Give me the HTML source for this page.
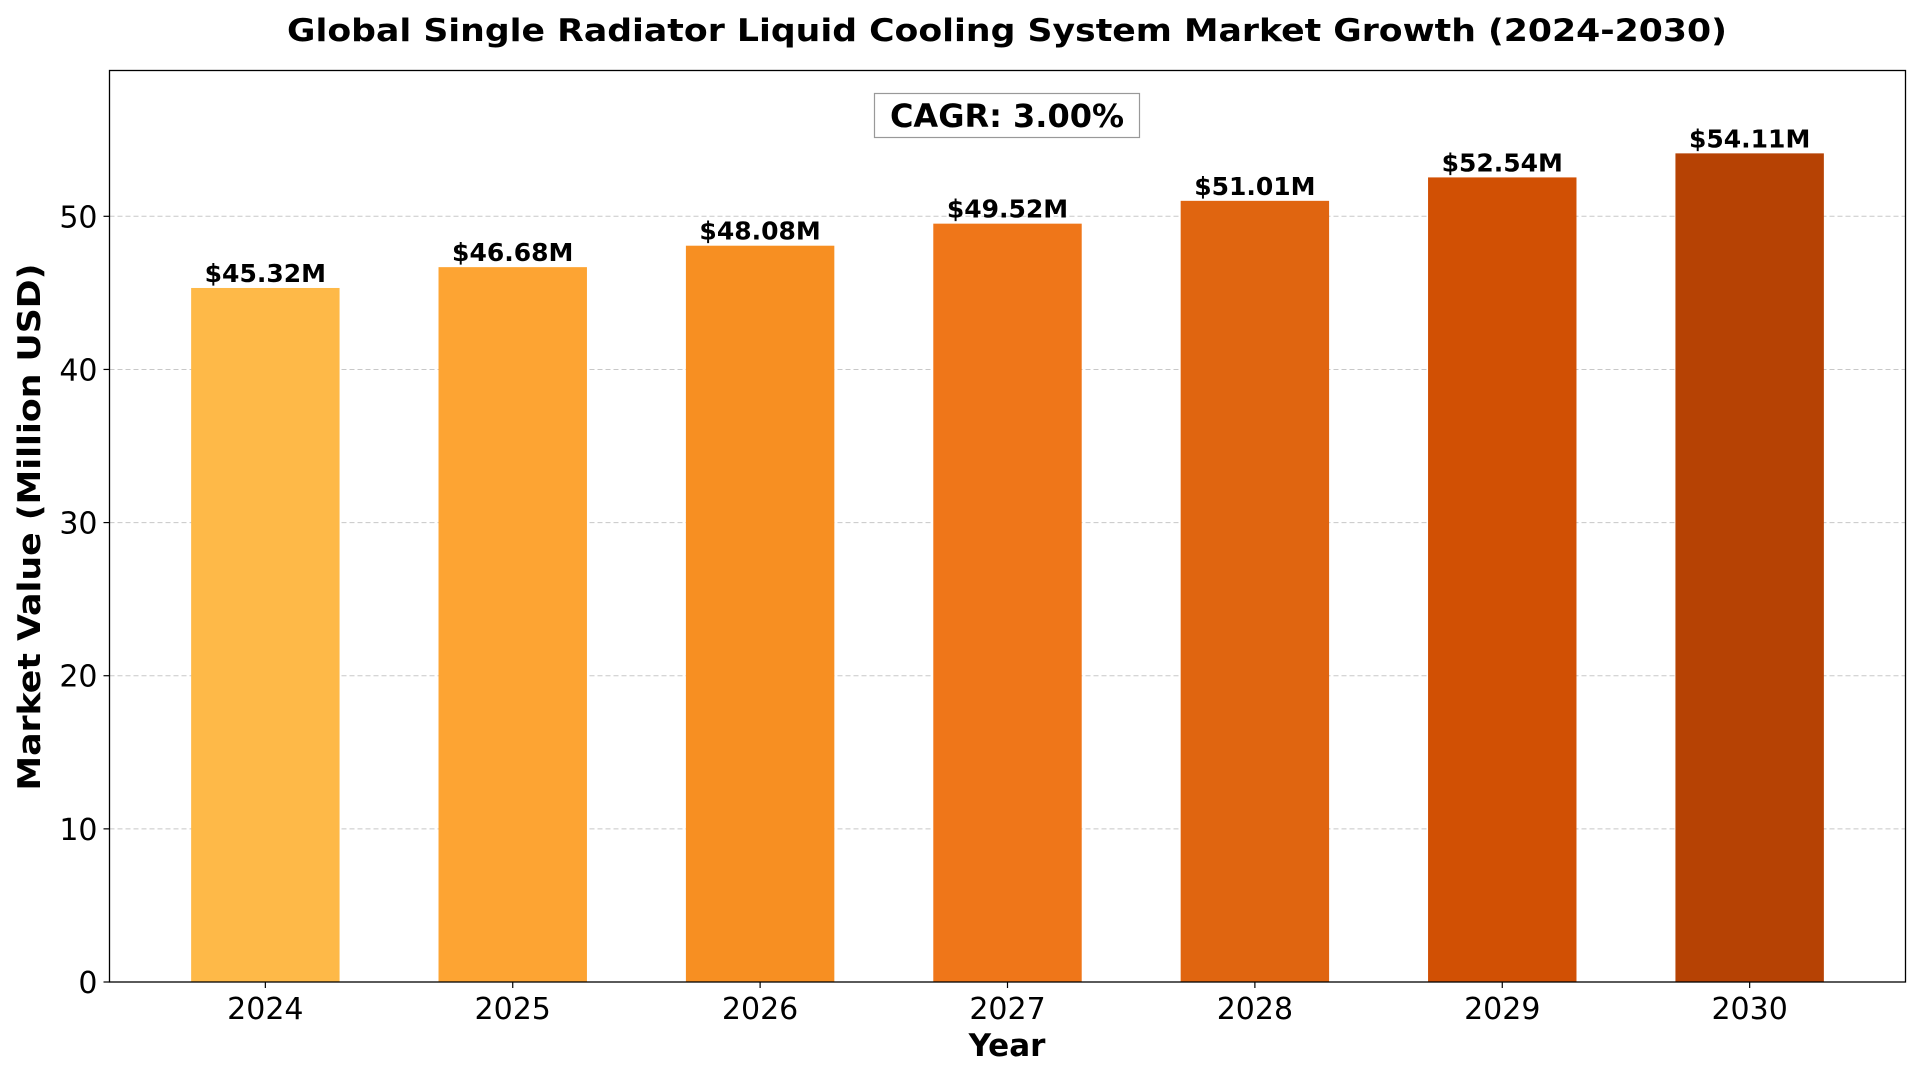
<!DOCTYPE html>
<html><head><meta charset="utf-8"><style>
html,body{margin:0;padding:0;background:#fff;width:1920px;height:1080px;overflow:hidden}
svg{display:block;font-family:"DejaVu Sans","Liberation Sans",sans-serif}
</style></head><body>
<svg id="chart" width="1920" height="1080" viewBox="0 0 1920 1080" xmlns="http://www.w3.org/2000/svg">
<text x="1007" y="41" text-anchor="middle" font-size="31" font-weight="bold" textLength="1440" lengthAdjust="spacingAndGlyphs">Global Single Radiator Liquid Cooling System Market Growth (2024-2030)</text>
<g id="grid"></g>
<g id="bars"></g>
<g id="yticks"></g>
<g id="xticks"></g>
<g id="labels"></g>
<rect x="109.5" y="70.5" width="1796" height="911.5" fill="none" stroke="#000" stroke-width="1.3"/>
<rect x="874.5" y="93.5" width="265" height="44" fill="#fff" stroke="#999" stroke-width="1.2"/>
<text x="1007" y="127" text-anchor="middle" font-size="32" font-weight="bold">CAGR: 3.00%</text>
<text x="1007" y="1056" text-anchor="middle" font-size="31" font-weight="bold">Year</text>
<text transform="translate(40,527) rotate(-90)" text-anchor="middle" font-size="31" font-weight="bold" textLength="527" lengthAdjust="spacingAndGlyphs">Market Value (Million USD)</text>
</svg>
<script>
const categories = ["2024","2025","2026","2027","2028","2029","2030"];
const values = [45.32, 46.68, 48.08, 49.52, 51.01, 52.54, 54.11];
const valueLabels = ["$45.32M","$46.68M","$48.08M","$49.52M","$51.01M","$52.54M","$54.11M"];
const yTicks = [0, 10, 20, 30, 40, 50];
const colors = ["#FEB948","#FDA433","#F78F22","#EF7619","#E06510","#D15004","#B64204"];

const NS = "http://www.w3.org/2000/svg";
const L = 109.5, R = 1905.5, T = 70.5, B = 982;
const yMax = Math.max(...values) * 1.1;
const xMin = -0.63, xMax = categories.length - 1 + 0.63;
const barW = 0.6;
function xs(i){ return L + (i - xMin) / (xMax - xMin) * (R - L); }
function ys(v){ return B - v / yMax * (B - T); }
function mk(tag, attrs, parent){ const e = document.createElementNS(NS, tag); for (const k in attrs) e.setAttribute(k, attrs[k]); parent.appendChild(e); return e; }

const grid = document.getElementById('grid');
const yt = document.getElementById('yticks');
yTicks.forEach(v => {
  const y = ys(v);
  if (v > 0) {
    const g = mk('line', {x1:L, x2:R, y1:y, y2:y, stroke:'#c8c8c8', 'stroke-width':1, 'stroke-dasharray':'5,3'}, grid);
    
    
  }
  const tk = mk('line', {x1:L-6, x2:L, y1:y, y2:y, stroke:'#000', 'stroke-width':1.2}, yt);
  
  
  const t = mk('text', {x:L-12, y:y+11, 'text-anchor':'end', 'font-size':30}, yt);
  t.textContent = v;
  
  
});

const bars = document.getElementById('bars');
const xt = document.getElementById('xticks');
const lab = document.getElementById('labels');
categories.forEach((c, i) => {
  const cx = xs(i);
  const x0 = xs(i - barW/2), x1 = xs(i + barW/2);
  const y = ys(values[i]);
  const r = mk('rect', {x:x0, y:y, width:x1-x0, height:B-y, fill:colors[i]}, bars);
  
  
  const tk = mk('line', {x1:cx, x2:cx, y1:B, y2:B+6, stroke:'#000', 'stroke-width':1.2}, xt);
  
  
  const t = mk('text', {x:cx, y:1019, 'text-anchor':'middle', 'font-size':30}, xt);
  t.textContent = c;
  
  
  const v = mk('text', {x:cx, y:y-6, 'text-anchor':'middle', 'font-size':25, 'font-weight':'bold'}, lab);
  v.textContent = valueLabels[i];
  
  
});
</script>
</body></html>
